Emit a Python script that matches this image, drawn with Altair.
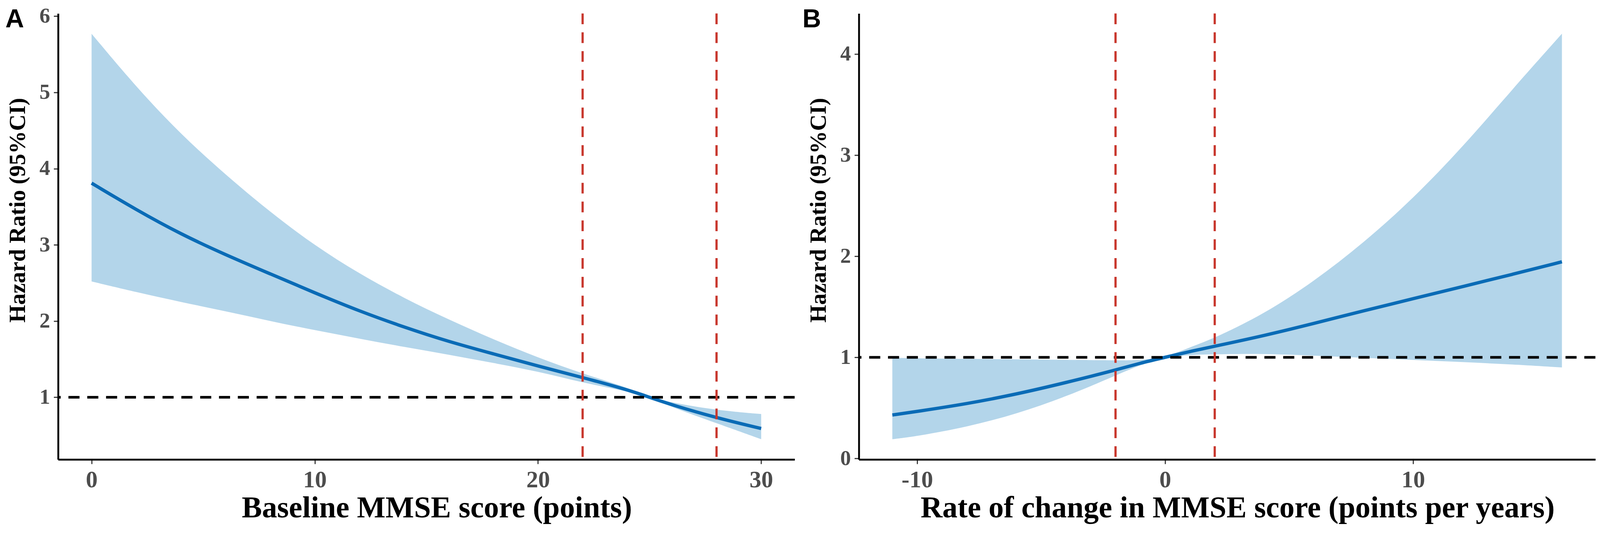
import altair as alt
import pandas as pd

# ---------------- Panel A: Baseline MMSE ----------------
a_x = [0, 2, 4, 6, 8, 10, 12, 14, 16, 18, 20, 22, 24, 25, 26, 28, 30]
a_hr = [3.81, 3.46, 3.14, 2.87, 2.62, 2.37, 2.13, 1.92, 1.73, 1.57, 1.41, 1.26, 1.10, 1.00, 0.90, 0.73, 0.59]
a_upper = [5.77, 5.07, 4.45, 3.92, 3.43, 2.99, 2.62, 2.30, 2.02, 1.76, 1.52, 1.31, 1.13, 1.00, 0.93, 0.83, 0.78]
a_lower = [2.52, 2.38, 2.25, 2.13, 2.00, 1.88, 1.77, 1.66, 1.56, 1.45, 1.34, 1.19, 1.08, 1.00, 0.87, 0.66, 0.45]
a_cuts = [22, 28]
a_xticks = [0, 10, 20, 30]
a_yticks = [1, 2, 3, 4, 5, 6]

# ---------------- Panel B: Rate of change ----------------
b_x = [-11, -10, -8, -6, -4, -2, -1, 0, 1, 2, 4, 6, 8, 10, 12, 14, 16]
b_hr = [0.43, 0.465, 0.54, 0.635, 0.75, 0.873, 0.944, 1.0, 1.058, 1.11, 1.215, 1.335, 1.46, 1.58, 1.70, 1.82, 1.945]
b_upper = [0.995, 0.99, 0.985, 0.98, 0.975, 0.97, 0.97, 1.0, 1.10, 1.19, 1.43, 1.75, 2.13, 2.57, 3.08, 3.65, 4.20]
b_lower = [0.19, 0.22, 0.31, 0.44, 0.61, 0.82, 0.925, 1.0, 1.025, 1.03, 1.037, 1.017, 0.995, 0.975, 0.953, 0.93, 0.90]
b_cuts = [-2, 2]
b_xticks = [-10, 0, 10]
b_yticks = [0, 1, 2, 3, 4]

BAND = "#B3D5EA"
LINE = "#0A6BB6"
RED = "#C8372D"
SERIF = "Liberation Serif"

W, H = 1996, 1209


def panel(xs, hr, lo, hi, cuts, xdom, ydom, xticks, yticks, xtitle, label, label_x):
    df = pd.DataFrame({"x": xs, "hr": hr, "lo": lo, "hi": hi})
    xsc = alt.Scale(domain=xdom, nice=False, zero=False)
    ysc = alt.Scale(domain=ydom, nice=False, zero=False)
    xaxis = alt.Axis(values=xticks, title=xtitle, titleFontSize=82,
                     titleX=W / 2 + 28, titleY=157, titleBaseline="alphabetic",
                     labelFontSize=64, labelPadding=12, labelExpr="'' + datum.value")
    yaxis = alt.Axis(values=yticks, title="Hazard Ratio (95%CI)", titleFontSize=62,
                     titleAngle=270, titleX=-90, titleY=533, titleBaseline="alphabetic",
                     titleAlign="center", labelFontSize=58, labelPadding=10,
                     labelExpr="'' + datum.value")
    base = alt.Chart(df)
    area = base.mark_area(color=BAND, opacity=1, interpolate="basis").encode(
        x=alt.X("x:Q", scale=xsc, axis=xaxis),
        y=alt.Y("lo:Q", scale=ysc, axis=yaxis),
        y2="hi:Q",
    )
    line = base.mark_line(color=LINE, strokeWidth=9, interpolate="basis").encode(
        x=alt.X("x:Q", scale=xsc, axis=xaxis), y=alt.Y("hr:Q", scale=ysc, axis=yaxis)
    )
    ref = alt.Chart(pd.DataFrame({"v": [1]})).mark_rule(
        color="black", strokeWidth=7, strokeDash=[30, 21]
    ).encode(y=alt.Y("v:Q", scale=ysc, axis=yaxis))
    cut = alt.Chart(pd.DataFrame({"c": cuts})).mark_rule(
        color=RED, strokeWidth=6, strokeDash=[29, 22]
    ).encode(x=alt.X("c:Q", scale=xsc, axis=xaxis))
    lab = alt.Chart(pd.DataFrame({"t": [label]})).mark_text(
        font="Liberation Sans", fontWeight="bold", fontSize=70, align="left",
        baseline="alphabetic", color="black"
    ).encode(x=alt.value(label_x), y=alt.value(37), text="t:N")
    return alt.layer(area, line, ref, cut, lab).properties(width=W, height=H)


pa = panel(a_x, a_hr, a_lower, a_upper, a_cuts, [-1.5, 31.5], [0.184, 6.036],
           a_xticks, a_yticks, "Baseline MMSE score (points)", "A", -143)
pb = panel(b_x, b_hr, b_lower, b_upper, b_cuts, [-12.35, 17.35], [-0.01, 4.4],
           b_xticks, b_yticks, "Rate of change in MMSE score (points per years)", "B", -153)

chart = alt.hconcat(pa, pb, spacing=17).properties(
    padding={"left": 6, "top": -34, "right": 0, "bottom": 0}
).configure_view(stroke=None).configure_axis(
    grid=False,
    domainColor="black", domainWidth=5,
    tickColor="#333333", tickWidth=3, tickSize=12,
    labelFont=SERIF, labelFontWeight="bold", labelColor="#4D4D4D",
    titleFont=SERIF, titleFontWeight="bold", titleColor="black",
)

chart.save("out.html", embed_options={"renderer": "svg", "actions": False})
